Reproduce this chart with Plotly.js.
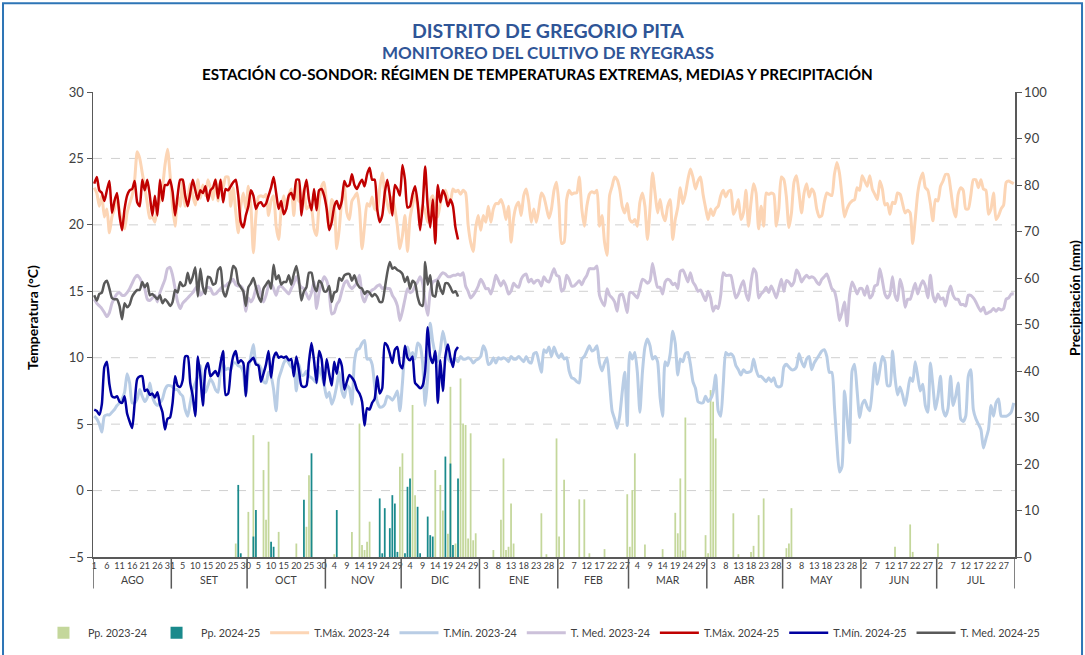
<!DOCTYPE html>
<html><head><meta charset="utf-8">
<script src="https://cdn.plot.ly/plotly-3.0.1.min.js"></script>
<style>html,body{margin:0;padding:0;background:#fff;}#chart{width:1085px;height:655px;}</style>
</head><body><div id="chart"></div>
<script>
// ---------------- DATA (day 0 = 1 August) ----------------
const tmax2324 = [
22.8,22.4,21.4,22.2,20.6,21.2,19.4,20.6,21.2,22.2,
21.0,20.2,19.7,20.9,21.6,22.2,23.4,25.5,25.0,23.9,
22.8,21.6,20.5,20.6,20.2,21.4,21.8,22.8,24.5,25.7,
23.8,21.4,19.9,22.2,21.4,23.4,21.4,22.0,23.1,22.2,
21.5,23.4,22.0,23.0,22.2,23.4,22.8,21.9,23.4,21.8,
23.4,22.8,23.6,23.6,21.4,22.8,21.0,19.4,21.4,22.4,
21.2,22.9,21.4,17.9,20.7,22.1,22.2,22.1,22.3,20.7,
21.8,22.2,19.9,18.9,21.2,22.2,21.2,22.2,22.7,20.7,
23.2,21.8,21.7,22.7,21.2,21.4,21.2,19.7,19.2,21.6,
22.9,23.2,21.4,19.7,21.9,21.4,18.2,19.7,21.9,22.9,
20.9,20.4,21.8,22.1,22.4,21.2,18.2,19.9,21.6,21.4,
22.1,21.2,21.1,22.7,23.9,22.4,21.6,20.9,22.1,21.2,
19.9,18.2,19.2,20.7,18.0,20.5,21.5,22.3,21.4,20.6,
21.5,21.0,20.2,21.8,22.2,21.4,20.6,21.6,22.4,22.6,
22.0,21.8,22.7,22.5,22.6,22.3,22.6,22.4,20.0,18.7,
18.0,19.8,20.7,19.6,20.7,20.2,21.4,20.2,21.2,21.6,
21.6,21.9,21.4,20.4,21.4,18.7,20.5,21.4,21.7,20.7,
22.2,22.7,21.7,20.2,21.2,20.2,21.2,22.4,22.1,21.3,
20.5,21.2,22.6,23.2,21.4,18.6,18.7,21.9,22.6,22.3,
22.4,22.4,23.6,21.2,19.9,21.4,22.3,22.5,22.4,22.6,
19.9,20.7,18.7,17.7,22.2,22.9,23.6,23.4,22.7,21.4,
20.9,21.6,20.4,20.2,20.4,19.9,21.7,22.4,21.4,18.9,
21.2,23.9,22.4,20.9,21.9,20.8,20.3,21.4,21.9,18.9,
20.4,21.3,22.8,21.6,22.3,23.4,24.2,23.6,22.7,23.3,
23.6,22.3,21.3,20.4,21.2,20.7,21.2,21.4,22.2,22.6,
22.1,22.5,22.6,20.8,21.2,21.9,20.4,20.9,22.6,19.9,
21.7,23.1,22.4,19.7,21.4,19.9,22.4,22.3,22.4,22.3,
19.9,21.2,23.6,23.4,22.1,19.8,20.9,23.2,23.7,22.4,
20.9,22.4,23.1,22.1,22.7,22.4,21.2,20.6,20.7,21.7,
22.4,22.3,22.2,23.8,24.7,23.9,22.2,20.6,21.2,21.6,
21.8,21.9,22.8,22.6,23.7,23.3,22.9,23.7,22.7,22.3,
21.9,23.3,22.7,21.5,21.6,20.8,21.7,21.6,22.4,22.3,
21.6,20.9,21.1,20.9,18.6,20.4,22.4,23.4,23.9,22.8,
22.6,21.6,20.3,21.9,21.8,22.9,23.3,23.8,23.8,22.7,
21.3,20.6,22.3,22.8,22.6,21.2,21.2,22.2,23.4,23.4,
22.8,23.4,22.7,22.6,20.8,21.2,22.4,20.4,20.7,21.2,
21.5,23.2,23.3,23.2,23.1];

const tmin2324 = [
5.6,5.4,5.0,4.4,5.6,5.7,5.7,5.9,6.1,6.4,
6.6,6.9,7.4,8.8,8.1,6.6,6.6,6.9,7.6,7.1,
6.7,7.0,8.1,7.1,6.6,6.4,6.6,6.9,7.6,7.9,
7.9,7.8,7.6,7.6,7.3,7.1,6.1,5.6,6.6,7.6,
8.1,8.6,9.4,7.6,7.4,7.9,8.4,8.1,7.6,7.4,
9.1,9.6,9.1,9.2,9.1,9.6,9.6,9.4,9.3,8.9,
7.2,9.1,10.1,11.0,9.6,9.5,9.2,8.2,8.1,8.9,
8.6,7.6,6.0,8.4,9.0,9.6,9.9,9.6,9.3,9.2,
7.5,9.5,8.7,8.7,9.0,8.6,8.5,8.3,8.1,9.3,
8.7,8.0,7.0,7.4,6.5,7.0,7.9,8.9,7.5,7.0,
7.9,7.7,6.5,9.7,10.6,10.7,11.1,11.3,9.9,9.9,
9.5,7.9,6.7,6.3,6.3,6.5,7.1,7.0,6.8,7.1,
7.5,6.0,8.1,10.4,10.8,10.1,10.4,9.9,11.1,10.9,
9.6,6.4,8.5,12.6,11.2,10.3,9.7,10.6,12.0,11.1,
10.0,9.7,9.9,9.9,9.7,10.1,9.9,9.9,10.0,9.9,
9.6,9.8,9.9,10.1,10.9,10.5,9.5,9.6,10.0,9.6,
10.0,9.9,10.0,9.9,9.7,10.1,9.9,9.9,10.1,9.9,
9.7,10.1,9.7,9.6,10.3,10.4,9.7,8.9,10.6,10.4,
10.8,10.1,10.8,10.3,10.0,10.3,9.9,10.0,9.0,8.5,
8.4,8.2,8.1,9.9,10.1,10.5,10.9,10.5,10.6,10.9,
9.6,9.0,9.6,10.0,8.1,6.0,5.4,4.7,5.6,7.4,
8.9,4.9,10.4,9.9,10.4,8.9,5.9,8.9,10.8,11.4,
10.9,9.9,10.1,9.7,7.0,5.6,9.7,9.4,10.3,12.0,
11.1,8.7,9.9,9.7,10.3,10.4,9.5,8.2,7.7,6.7,
6.6,6.6,7.1,6.7,6.9,7.4,8.7,6.0,5.6,8.0,
10.4,10.2,10.3,10.1,9.4,9.1,8.7,9.1,8.9,8.9,
9.0,9.9,9.1,8.6,8.6,8.4,8.2,8.5,8.2,8.5,
7.9,7.8,7.9,9.3,9.5,9.3,9.1,9.1,9.3,10.3,
9.7,9.3,9.9,10.1,9.1,9.6,9.9,10.2,10.5,10.6,
10.1,8.9,8.9,6.4,3.5,1.4,1.8,7.5,5.5,3.6,
9.0,9.5,7.5,5.5,6.5,6.8,6.3,6.0,7.6,9.6,
8.0,9.1,10.1,9.7,7.9,7.9,10.5,8.5,7.2,7.8,
7.2,6.4,7.4,8.5,8.2,9.7,8.6,7.5,8.0,6.4,
5.9,9.6,7.9,6.1,7.1,8.6,6.1,5.6,6.2,8.6,
6.4,7.1,8.1,5.4,5.2,5.6,8.6,9.1,6.1,5.4,
5.0,4.6,3.2,3.9,4.6,6.4,5.6,6.6,6.9,5.6,
5.6,5.6,5.7,5.9,6.6];

const tmed2324 = [
14.4,14.1,13.9,13.7,13.4,13.1,13.4,14.1,14.5,14.8,
14.9,14.7,14.7,14.9,15.2,15.6,16.0,16.2,16.0,15.6,
15.2,14.4,14.3,14.5,14.7,14.2,14.9,15.4,15.9,16.7,
16.8,16.2,15.2,14.2,13.7,14.1,14.3,14.5,14.7,14.9,
15.2,15.4,14.7,14.9,15.2,15.3,15.2,14.8,14.8,15.0,
15.2,15.4,15.4,15.6,15.7,15.9,15.5,15.4,15.4,15.1,
13.5,14.5,14.2,14.5,15.2,15.4,14.7,14.2,14.7,15.4,
15.6,15.2,14.7,15.3,15.4,15.2,15.0,14.8,15.2,15.6,
16.1,15.6,15.3,15.2,14.8,14.4,14.9,15.7,13.7,14.9,
15.6,16.1,15.8,15.0,13.3,13.4,14.0,14.3,15.0,15.6,
15.8,15.4,15.2,15.4,15.6,16.2,14.7,14.2,14.7,14.9,
15.1,15.2,15.4,15.5,15.2,15.3,15.2,15.2,14.7,14.4,
13.9,12.8,13.5,14.4,15.2,14.9,15.0,15.4,15.7,16.1,
15.6,14.2,13.2,15.0,15.7,15.8,15.9,16.2,16.4,16.3,
16.1,16.1,16.2,16.2,16.3,16.2,16.4,15.4,15.0,14.5,
14.7,15.0,15.4,15.9,15.6,15.2,15.2,14.8,15.4,16.2,
15.8,15.4,15.8,15.4,14.8,15.0,15.6,15.4,15.3,15.9,
16.2,16.3,15.7,15.9,15.6,15.8,15.8,15.4,16.1,15.8,
15.7,16.2,16.7,16.2,16.1,15.0,15.2,16.2,15.9,15.4,
15.4,15.6,15.8,15.5,15.9,16.2,16.7,16.7,16.7,16.9,
14.7,14.2,13.9,15.2,14.7,14.5,14.2,13.5,14.7,14.8,
14.2,13.4,14.9,14.9,14.7,14.5,15.2,15.9,15.8,15.6,
15.8,17.1,16.1,15.3,15.3,14.8,15.7,15.9,15.8,15.5,
15.6,15.2,16.5,16.6,16.2,15.7,16.4,15.7,15.4,15.0,
15.1,14.7,14.3,15.0,14.5,13.5,13.9,13.7,14.7,16.4,
16.2,16.2,16.2,15.3,14.5,14.8,15.4,15.8,14.8,14.3,
15.7,16.7,16.4,14.5,14.8,15.0,15.3,14.9,15.4,15.0,
14.5,15.2,15.9,15.0,15.8,15.7,15.4,15.7,16.6,16.3,
15.7,16.0,16.2,16.0,16.1,16.0,15.7,15.5,15.9,16.1,
16.3,15.8,15.2,15.0,14.2,12.8,13.4,14.2,12.4,14.7,
15.7,15.3,14.8,15.2,15.2,14.7,15.4,14.5,14.7,15.4,
15.5,16.7,15.8,14.8,14.5,14.8,16.1,14.7,14.3,15.9,
15.2,13.8,14.4,14.4,15.0,15.6,14.8,15.4,15.8,15.4,
14.5,16.2,14.7,14.2,14.8,14.4,14.5,13.9,14.8,15.4,
14.7,14.4,14.4,14.0,14.0,13.9,14.7,14.7,14.5,14.2,
13.8,13.5,13.8,13.3,13.4,13.5,13.7,13.5,13.7,13.6,
13.7,14.4,14.5,14.8,14.8];

const tmax2425 = [
23.1,23.6,22.6,22.4,21.8,22.6,23.3,20.9,21.8,22.4,
20.7,19.6,21.2,22.2,22.6,22.7,23.3,21.7,21.4,23.4,
22.6,23.4,22.2,20.7,22.2,20.7,23.4,21.8,23.0,23.0,
23.4,22.5,20.7,22.2,23.4,23.4,22.2,21.4,22.4,23.4,
22.6,21.9,22.6,22.4,22.9,21.8,22.6,22.8,23.4,22.0,
23.4,21.7,22.7,22.6,22.9,23.2,23.4,22.2,20.2,19.8,
20.7,21.4,22.6,22.2,21.2,21.6,21.7,21.4,21.6,22.2,
22.8,23.6,22.4,21.2,21.8,20.8,21.2,22.2,22.4,21.9,
23.4,23.4,20.7,22.4,23.4,21.9,21.1,22.7,21.1,22.6,
22.7,22.2,21.2,19.6,20.2,21.4,21.8,21.2,21.8,23.3,
22.9,23.0,23.8,23.0,22.7,23.1,23.4,22.9,23.8,24.3,
23.4,23.4,21.2,20.2,20.7,22.4,23.4,22.2,20.7,23.0,
22.7,22.2,24.5,23.4,21.3,21.4,22.3,22.9,21.7,19.6,
21.4,24.4,21.4,19.8,21.9,18.6,23.0,21.7,22.6,22.2,
21.4,21.9,21.4,19.8,18.9];

const tmin2425 = [
6.1,6.0,5.7,6.5,9.3,9.7,8.0,7.1,7.0,7.1,
6.7,6.6,7.1,5.8,5.2,4.7,6.6,8.4,8.6,8.6,
7.5,7.6,7.2,7.3,7.0,7.4,6.5,5.9,4.6,5.4,
5.5,6.6,8.6,7.9,7.8,8.3,10.1,10.1,8.1,7.1,
5.6,10.1,8.6,6.4,9.1,9.6,8.6,8.8,9.0,8.6,
9.6,10.5,7.2,7.3,9.0,10.1,10.5,9.6,9.8,9.6,
7.1,9.6,9.8,10.0,9.5,9.4,8.2,8.8,9.5,10.5,
8.5,10.0,10.4,10.0,10.1,10.0,10.1,9.8,9.9,8.6,
10.1,9.1,7.9,7.8,7.9,9.7,11.1,9.8,8.1,10.5,
9.9,7.9,9.9,8.8,7.9,9.7,8.8,9.9,9.4,7.6,
8.2,8.7,8.5,8.2,7.6,7.3,6.7,4.9,6.2,6.1,
6.6,6.9,8.6,7.3,7.7,11.1,10.9,10.3,9.6,10.6,
10.8,9.5,9.2,10.9,10.0,9.8,10.1,8.1,7.9,7.7,
7.9,9.0,12.3,10.1,9.6,10.5,6.6,9.8,7.5,10.1,
11.0,10.0,9.3,10.5,10.8];

const tmed2425 = [
14.7,14.3,14.8,14.9,15.6,15.8,15.2,14.5,14.4,14.4,
13.9,12.9,14.1,13.8,14.0,14.6,14.9,15.1,15.1,15.7,
15.3,15.6,14.7,14.8,14.6,14.4,14.7,14.1,14.4,14.2,
13.9,14.2,15.1,14.9,15.7,15.4,15.5,16.4,15.6,16.1,
16.8,14.6,16.7,15.3,14.8,16.1,16.0,15.5,15.6,16.6,
16.8,15.0,14.6,15.3,15.9,16.9,16.7,15.6,15.3,15.0,
13.9,15.3,15.6,16.0,15.3,14.6,14.2,15.2,15.5,15.8,
15.2,17.0,15.9,16.2,15.5,15.7,15.7,16.2,15.5,16.3,
16.9,15.9,14.3,15.0,15.3,16.4,16.4,15.4,15.0,15.8,
15.6,15.0,15.0,15.4,14.2,14.9,15.0,16.0,15.8,16.2,
16.3,16.3,15.8,16.2,15.6,15.3,15.2,14.8,15.0,14.9,
14.6,14.8,14.6,14.2,14.2,15.2,16.4,17.2,16.7,16.8,
16.6,16.5,16.3,15.7,16.1,15.2,15.8,15.6,14.6,14.0,
13.9,17.2,15.5,16.2,14.7,14.6,15.8,15.2,14.8,15.6,
15.6,15.3,14.9,15.0,14.6];

// Precipitation: day of season (0 = 1 Aug) and mm
const ppDays2324 = [56,61,63,67,68,69,73,80,84,85,86,95,102,105,106,107,108,109,121,122,125,126,127,135,137,138,140,141,143,145,146,147,148,149,150,151,158,161,162,163,164,165,166,177,179,183,184,186,192,194,196,202,211,212,213,214,218,225,230,231,232,233,234,242,243,244,245,246,253,255,260,261,263,265,274,275,276,317,323,324,334];
const ppVals2324 = [2.9,9.7,26.2,18.7,8.0,24.8,5.4,2.9,6.5,17.6,10.1,0.6,5.4,28.7,2.6,1.5,3.3,7.6,19.4,22.3,5.1,32.7,13.3,18.7,15.5,10.0,5.0,36.6,2.9,38.4,28.7,28.4,4.0,26.6,3.6,5.1,1.5,8.0,21.2,1.5,2.2,11.5,2.9,9.4,0.6,25.5,4.4,16.6,12.4,12.4,0.8,1.7,13.5,2.2,14.4,22.3,2.7,1.7,9.5,5.1,16.9,1.4,30.0,4.7,0.8,35.9,33.4,25.5,9.4,0.6,1.1,2.4,9.0,12.6,1.9,2.9,10.5,2.2,7.0,1.1,2.9];
const ppDays2425 = [57,58,63,64,70,71,83,86,96,113,114,115,117,118,119,120,123,124,125,128,129,132,133,134,139,141,142,144];
const ppVals2425 = [15.5,0.8,4.4,10.1,3.3,2.2,12.3,22.3,10.1,12.6,0.8,10.5,6.2,13.3,11.5,1.1,0.8,15.1,16.9,10.8,0.8,8.7,4.7,4.4,21.6,20.1,2.6,16.9];

const monthNames = ['ENE','FEB','MAR','ABR','MAY','JUN','JUL','AGO','SET','OCT','NOV','DIC'];
const tempTicks = [-5,0,5,10,15,20,25,30];
const ppTicks = [0,10,20,30,40,50,60,70,80,90,100];

// ---------------- AXIS HELPERS ----------------
const nDays = 365;
const dateAt = i => new Date(2024, 7, 1 + i);
const allDays = Array.from({length: nDays}, (_, i) => i);
const tickDays = allDays.filter(i => i % 5 === 0);
const tickText = tickDays.map(i => String(dateAt(i).getDate()));
const monthStarts = allDays.filter(i => dateAt(i).getDate() === 1);

const FONT = "Lato, 'Open Sans', sans-serif";
const annotations = [];
const shapes = [];

monthStarts.forEach((s, k) => {
  const e = k + 1 < monthStarts.length ? monthStarts[k + 1] : nDays;
  annotations.push({x: (s + e - 1) / 2, xref: 'x', y: -0.05, yref: 'paper', yanchor: 'middle', xanchor: 'center',
    text: monthNames[dateAt(s).getMonth()], showarrow: false, font: {family: FONT, size: 10.5, color: '#404040'}});
  shapes.push({type: 'line', xref: 'x', yref: 'paper', x0: s - 0.5, x1: s - 0.5, y0: 0, y1: -0.068,
    line: {color: '#595959', width: 1.5}});
});
shapes.push({type: 'line', xref: 'x', yref: 'paper', x0: nDays - 0.5, x1: nDays - 0.5, y0: 0, y1: -0.068,
  line: {color: '#595959', width: 1.5}});

// dashed grid lines on temperature axis (not at the ends)
tempTicks.slice(1, -1).forEach(v => {
  shapes.push({type: 'line', xref: 'paper', yref: 'y2', x0: 0, x1: 1, y0: v, y1: v, layer: 'below',
    line: {color: '#d0d0d0', width: 1, dash: 'dash'}});
});

// outer chart border
shapes.push({type: 'rect', xref: 'paper', yref: 'paper', x0: -0.0976, x1: 1.0727, y0: -0.3, y1: 1.191,
  line: {color: '#2e75b6', width: 2}, fillcolor: 'rgba(0,0,0,0)'});

// titles
annotations.push({x: 0.4935, y: 1.133, xref: 'paper', yref: 'paper', showarrow: false, yanchor: 'middle', xanchor: 'center',
  text: '<b>DISTRITO DE GREGORIO PITA</b>', font: {family: FONT, size: 19.5, color: '#2f5597'}});
annotations.push({x: 0.4935, y: 1.086, xref: 'paper', yref: 'paper', showarrow: false, yanchor: 'middle', xanchor: 'center',
  text: '<b>MONITOREO DEL CULTIVO DE RYEGRASS</b>', font: {family: FONT, size: 17, color: '#2f5597'}});
annotations.push({x: 0.482, y: 1.039, xref: 'paper', yref: 'paper', showarrow: false, yanchor: 'middle', xanchor: 'center',
  text: '<b>ESTACIÓN CO-SONDOR: RÉGIMEN DE TEMPERATURAS EXTREMAS, MEDIAS Y PRECIPITACIÓN</b>',
  font: {family: FONT, size: 15.2, color: '#000000'}});
annotations.push({x: -0.065, y: 0.514, xref: 'paper', yref: 'paper', showarrow: false, textangle: -90,
  xanchor: 'center', yanchor: 'middle',
  text: '<b>Temperatura (°C)</b>', font: {family: FONT, size: 14, color: '#000000'}});
annotations.push({x: 1.065, y: 0.557, xref: 'paper', yref: 'paper', showarrow: false, textangle: -90,
  xanchor: 'center', yanchor: 'middle',
  text: '<b>Precipitación (mm)</b>', font: {family: FONT, size: 14, color: '#000000'}});

// ---------------- TRACES ----------------
const d2425 = n => allDays.slice(0, n);
const lineTrace = (name, y, color, width) => ({
  type: 'scatter', mode: 'lines', name, x: d2425(y.length), y, yaxis: 'y2',
  line: {color, width, shape: 'spline', smoothing: 0.6}
});

const data = [
  {type: 'bar', name: 'Pp. 2023-24', x: ppDays2324, y: ppVals2324, yaxis: 'y', width: 0.7,
    marker: {color: '#c4d79b', line: {width: 0}}},
  {type: 'bar', name: 'Pp. 2024-25', x: ppDays2425, y: ppVals2425, yaxis: 'y', width: 0.7,
    marker: {color: '#1a8a8c', line: {width: 0}}},
  lineTrace('T.Máx. 2023-24', tmax2324, '#fcd5b5', 3),
  lineTrace('T.Mín. 2023-24', tmin2324, '#b9cde5', 3),
  lineTrace('T. Med. 2023-24', tmed2324, '#ccc1da', 3),
  lineTrace('T.Máx. 2024-25', tmax2425, '#c00000', 2.5),
  lineTrace('T.Mín. 2024-25', tmin2425, '#0000a0', 2.5),
  lineTrace('T. Med. 2024-25', tmed2425, '#595959', 2.5)
];

const layout = {
  width: 1085, height: 655,
  margin: {l: 93, r: 70, t: 92, b: 98, autoexpand: false},
  paper_bgcolor: '#ffffff', plot_bgcolor: '#ffffff',
  font: {family: FONT, color: '#404040'},
  showlegend: true,
  barmode: 'overlay',
  xaxis: {range: [-0.5, nDays - 0.5], tickmode: 'array', tickvals: tickDays, ticktext: tickText,
    ticks: '', showgrid: false, zeroline: false, showline: true, linecolor: '#595959', linewidth: 1.5,
    tickfont: {family: FONT, size: 9, color: '#404040'}, tickangle: 0},
  yaxis: {side: 'right', range: [0, 100], tickmode: 'array', tickvals: ppTicks, showgrid: false,
    zeroline: false, showline: true, linecolor: '#595959', linewidth: 1.5, ticks: 'outside', ticklen: 5,
    tickcolor: '#595959', tickfont: {family: FONT, size: 13, color: '#404040'}},
  yaxis2: {overlaying: 'y', side: 'left', range: [-5, 30], tickmode: 'array', tickvals: tempTicks,
    showgrid: false, zeroline: false, showline: true, linecolor: '#595959', linewidth: 1.5,
    ticks: 'outside', ticklen: 5, tickcolor: '#595959', tickfont: {family: FONT, size: 13, color: '#404040'}},
  legend: {orientation: 'h', x: -0.0586, xanchor: 'left', y: -0.163, yanchor: 'middle',
    font: {family: FONT, size: 10.75, color: '#404040'}, itemwidth: 39, bgcolor: 'rgba(0,0,0,0)', traceorder: 'normal'},
  annotations, shapes
};

Plotly.newPlot('chart', data, layout, {displayModeBar: false, staticPlot: true});
</script>
</body></html>
